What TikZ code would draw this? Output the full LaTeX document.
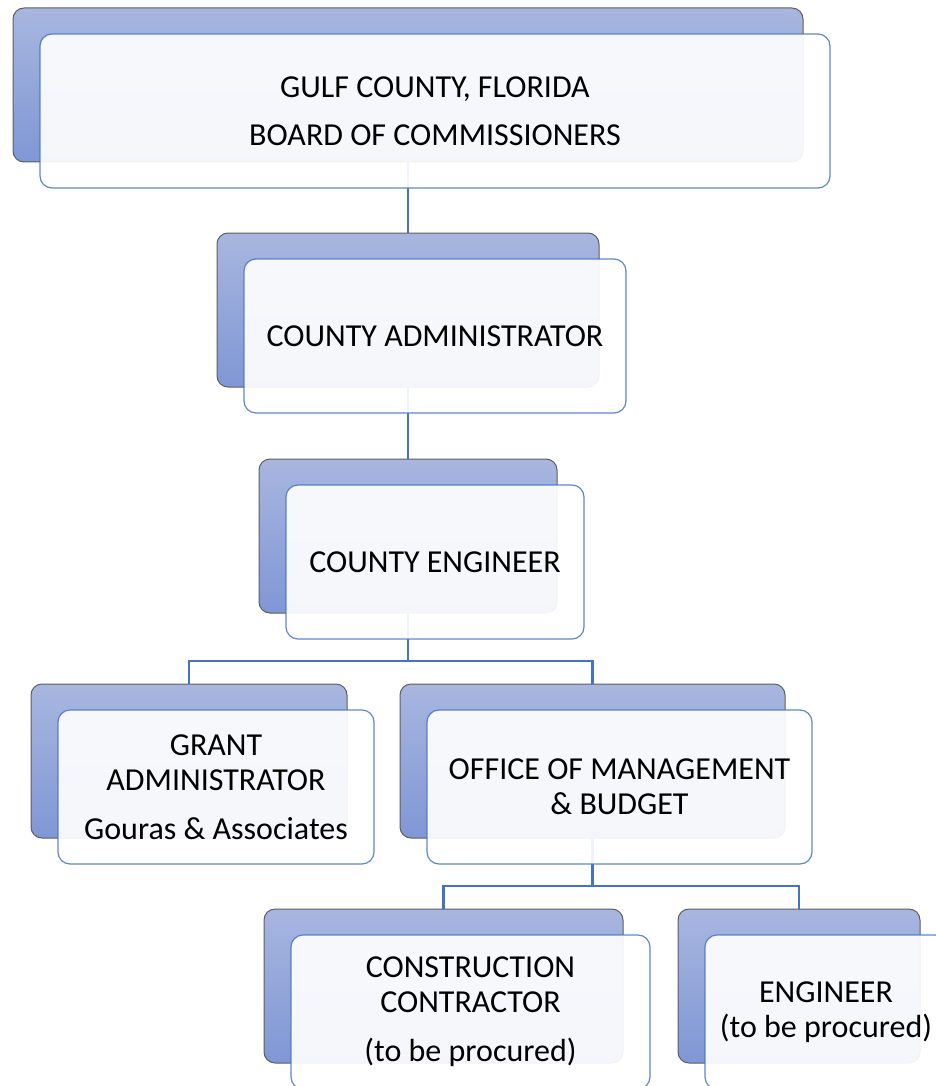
\documentclass[tikz,border=0pt]{standalone}
\usepackage{fontspec}
\setmainfont{Carlito}
\definecolor{backtop}{HTML}{A8B6DF}
\definecolor{backbot}{HTML}{7F97D5}
\definecolor{backedge}{HTML}{5E5E5E}
\definecolor{linkblue}{HTML}{4472C4}
\begin{document}
\begin{tikzpicture}[x=1pt,y=-1pt,
  backbox/.style={draw=backedge, line width=1pt, rounded corners=11pt,
    top color=backtop, bottom color=backbot, minimum height=154pt, inner sep=0pt},
  frontbox/.style={draw=linkblue, draw opacity=0.85, line width=1.2pt, rounded corners=12pt,
    fill=white, fill opacity=0.92, text opacity=1, minimum height=154pt, inner sep=0pt,
    align=center, font=\fontsize{32}{35}\selectfont},
  link/.style={draw=linkblue, line width=2.8pt}]
\useasboundingbox (0,0) rectangle (936,1086);
% back boxes
\node[backbox, minimum width=790pt] (b1) at (408,85) {};
\node[backbox, minimum width=382pt] (b2) at (408,310) {};
\node[backbox, minimum width=298pt] (b3) at (408,536) {};
\node[backbox, minimum width=316pt] (b4) at (189,761) {};
\node[backbox, minimum width=385pt] (b5) at (592.5,761) {};
\node[backbox, minimum width=359pt] (b6) at (443.5,986) {};
\node[backbox, minimum width=242pt] (b7) at (799,986) {};
% connectors
\draw[link] (b1.south) -- (b2.north);
\draw[link] (b2.south) -- (b3.north);
\coordinate (m3) at (408,661);
\coordinate (m5) at (592.5,886);
\draw[link] (b3.south) -- (m3) -| (b4.north);
\draw[link] (m3) -| (b5.north);
\draw[link] (b5.south) -- (m5) -| (b6.north);
\draw[link] (m5) -| (b7.north);
% front boxes
\node[frontbox, minimum width=790pt] (f1) at (435,111) {GULF COUNTY, FLORIDA\\[13pt]BOARD OF COMMISSIONERS};
\node[frontbox, minimum width=382pt] (f2) at (435,336) {COUNTY ADMINISTRATOR};
\node[frontbox, minimum width=298pt] (f3) at (435,562) {COUNTY ENGINEER};
\node[frontbox, minimum width=316pt] (f4) at (216,787) {GRANT\\ADMINISTRATOR\\[14pt]Gouras \& Associates};
\node[frontbox, minimum width=385pt] (f5) at (619.5,787) {OFFICE OF MANAGEMENT\\\& BUDGET};
\node[frontbox, minimum width=359pt] (f6) at (470.5,1012) {CONSTRUCTION\\CONTRACTOR\\[14pt](to be procured)};
\node[frontbox, minimum width=242pt] (f7) at (826,1012) {ENGINEER\\(to be procured)};
\end{tikzpicture}
\end{document}
